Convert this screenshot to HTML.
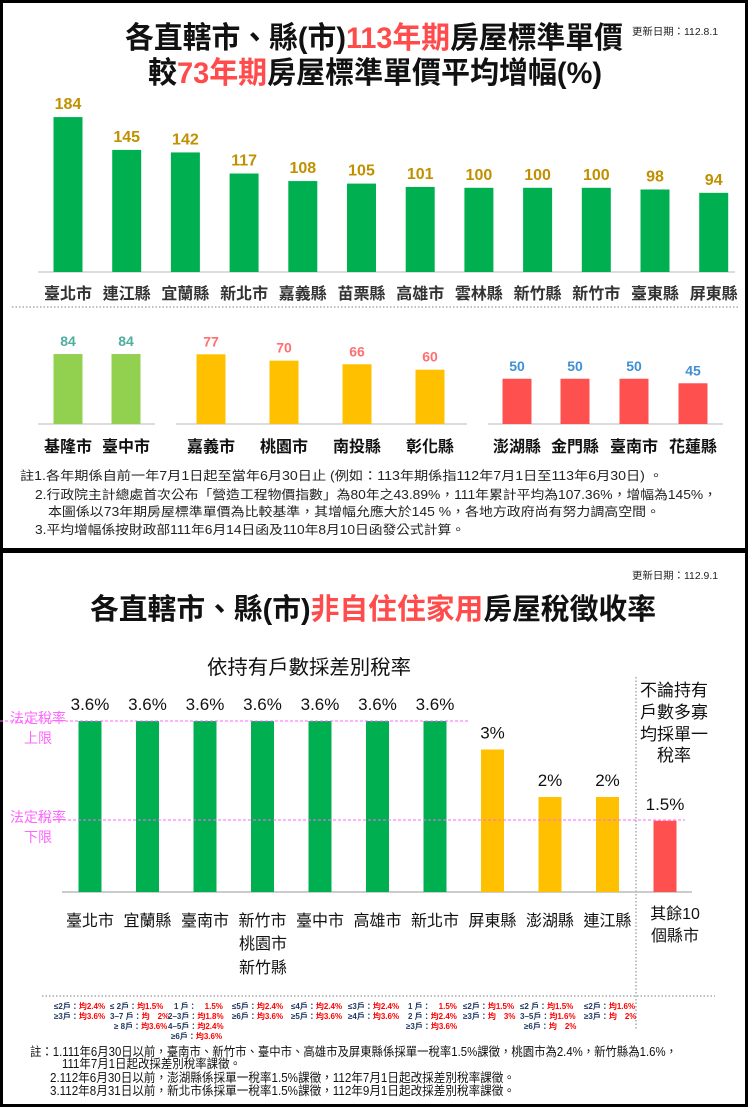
<!DOCTYPE html>
<html><head><meta charset="utf-8">
<style>
html,body{margin:0;padding:0;background:#fff;}
svg{display:block;font-family:"Liberation Sans","Noto Sans CJK TC",sans-serif;}
</style></head>
<body>
<svg id="chart" width="748" height="1107" viewBox="0 0 748 1107" xmlns="http://www.w3.org/2000/svg">
<rect x="1.5" y="1.5" width="745" height="548" fill="#fff" stroke="#000" stroke-width="3"/>
<rect x="1.5" y="551.5" width="745" height="554" fill="#fff" stroke="#000" stroke-width="3"/>

<text x="125" y="48" font-size="30" font-weight="bold" fill="#111" textLength="498" lengthAdjust="spacingAndGlyphs">各直轄市、縣(市)<tspan fill="#FF4B4B">113年期</tspan>房屋標準單價</text>
<text x="148" y="83" font-size="30" font-weight="bold" fill="#111" textLength="454" lengthAdjust="spacingAndGlyphs">較<tspan fill="#FF4B4B">73年期</tspan>房屋標準單價平均增幅(%)</text>
<text x="632" y="35" font-size="10" fill="#222" textLength="86" lengthAdjust="spacingAndGlyphs">更新日期：112.8.1</text>

<line x1="38" y1="272" x2="735" y2="272" stroke="#d0d0d0" stroke-width="1.5"/>
<line x1="12" y1="307" x2="738" y2="307" stroke="#aaa" stroke-width="1.5" stroke-dasharray="1.5,2"/>
<g id="top-bars"></g>

<line x1="38" y1="424" x2="155" y2="424" stroke="#d0d0d0" stroke-width="1.5"/>
<line x1="176" y1="424" x2="467" y2="424" stroke="#d0d0d0" stroke-width="1.5"/>
<line x1="488" y1="424" x2="723" y2="424" stroke="#d0d0d0" stroke-width="1.5"/>
<g id="mid-bars"></g>

<g font-size="12.5" fill="#222">
<text x="20" y="480" textLength="643" lengthAdjust="spacingAndGlyphs">註1.各年期係自前一年7月1日起至當年6月30日止 (例如：113年期係指112年7月1日至113年6月30日) 。</text>
<text x="35" y="499" textLength="682" lengthAdjust="spacingAndGlyphs">2.行政院主計總處首次公布「營造工程物價指數」為80年之43.89%，111年累計平均為107.36%，增幅為145%，</text>
<text x="48" y="516" textLength="612" lengthAdjust="spacingAndGlyphs">本圖係以73年期房屋標準單價為比較基準，其增幅允應大於145 %，各地方政府尚有努力調高空間。</text>
<text x="35" y="534" textLength="430" lengthAdjust="spacingAndGlyphs">3.平均增幅係按財政部111年6月14日函及110年8月10日函發公式計算。</text>
</g>

<text x="632" y="579" font-size="10" fill="#222" textLength="86" lengthAdjust="spacingAndGlyphs">更新日期：112.9.1</text>
<text x="90" y="619" font-size="29" font-weight="bold" fill="#111" textLength="566" lengthAdjust="spacingAndGlyphs">各直轄市、縣(市)<tspan fill="#FF4B4B">非自住住家用</tspan>房屋稅徵收率</text>
<text x="207" y="674" font-size="20" fill="#111" textLength="204" lengthAdjust="spacingAndGlyphs">依持有戶數採差別稅率</text>
<g font-size="17" fill="#111" text-anchor="middle">
<text x="674" y="696">不論持有</text>
<text x="674" y="718">戶數多寡</text>
<text x="674" y="740">均採單一</text>
<text x="674" y="761">稅率</text>
</g>
<line x1="636" y1="677" x2="636" y2="1030" stroke="#aaa" stroke-width="1.5" stroke-dasharray="1.5,2"/>
<line x1="62" y1="892" x2="692" y2="892" stroke="#bbb" stroke-width="1.5"/>
<g id="tax-bars"></g>
<line x1="0" y1="721" x2="470" y2="721" stroke="#FF66FF" stroke-width="1" stroke-dasharray="3,2"/>
<line x1="38" y1="820" x2="685" y2="820" stroke="#FF66FF" stroke-width="1" stroke-dasharray="3,2"/>
<g font-size="14" fill="#FF66FF" text-anchor="middle">
<text x="38" y="723">法定稅率</text><text x="38" y="743">上限</text>
<text x="38" y="822">法定稅率</text><text x="38" y="842">下限</text>
</g>
<g font-size="16" fill="#111" text-anchor="middle">
<text x="263" y="949">桃園市</text>
<text x="263" y="973">新竹縣</text>
<text x="675" y="919">其餘10</text>
<text x="675" y="941">個縣市</text>
</g>
<line x1="42" y1="996" x2="715" y2="996" stroke="#aaa" stroke-width="1.5" stroke-dasharray="1.5,2"/>

<g font-size="8" font-weight="bold">
<text x="54" y="1009"><tspan fill="#1F3864">≤2戶：</tspan><tspan fill="#f00">均2.4%</tspan></text>
<text x="54" y="1019"><tspan fill="#1F3864">≥3戶：</tspan><tspan fill="#f00">均3.6%</tspan></text>
<text x="110" y="1009"><tspan fill="#1F3864">≤ 2戶：</tspan><tspan fill="#f00">均1.5%</tspan></text>
<text x="110" y="1019"><tspan fill="#1F3864">3–7 戶：</tspan><tspan fill="#f00">均　2%</tspan></text>
<text x="114" y="1029"><tspan fill="#1F3864">≥ 8戶：</tspan><tspan fill="#f00">均3.6%</tspan></text>
<text x="174" y="1009"><tspan fill="#1F3864">1 戶：</tspan><tspan fill="#f00">　1.5%</tspan></text>
<text x="168" y="1019"><tspan fill="#1F3864">2–3戶：</tspan><tspan fill="#f00">均1.8%</tspan></text>
<text x="168" y="1029"><tspan fill="#1F3864">4–5戶：</tspan><tspan fill="#f00">均2.4%</tspan></text>
<text x="171" y="1039"><tspan fill="#1F3864">≥6戶：</tspan><tspan fill="#f00">均3.6%</tspan></text>
<text x="232" y="1009"><tspan fill="#1F3864">≤5戶：</tspan><tspan fill="#f00">均2.4%</tspan></text>
<text x="232" y="1019"><tspan fill="#1F3864">≥6戶：</tspan><tspan fill="#f00">均3.6%</tspan></text>
<text x="291" y="1009"><tspan fill="#1F3864">≤4戶：</tspan><tspan fill="#f00">均2.4%</tspan></text>
<text x="291" y="1019"><tspan fill="#1F3864">≥5戶：</tspan><tspan fill="#f00">均3.6%</tspan></text>
<text x="348" y="1009"><tspan fill="#1F3864">≤3戶：</tspan><tspan fill="#f00">均2.4%</tspan></text>
<text x="348" y="1019"><tspan fill="#1F3864">≥4戶：</tspan><tspan fill="#f00">均3.6%</tspan></text>
<text x="408" y="1009"><tspan fill="#1F3864">1 戶：</tspan><tspan fill="#f00">　1.5%</tspan></text>
<text x="408" y="1019"><tspan fill="#1F3864">2 戶：</tspan><tspan fill="#f00">均2.4%</tspan></text>
<text x="406" y="1029"><tspan fill="#1F3864">≥3戶：</tspan><tspan fill="#f00">均3.6%</tspan></text>
<text x="463" y="1009"><tspan fill="#1F3864">≤2戶：</tspan><tspan fill="#f00">均1.5%</tspan></text>
<text x="463" y="1019"><tspan fill="#1F3864">≥3戶：</tspan><tspan fill="#f00">均　3%</tspan></text>
<text x="520" y="1009"><tspan fill="#1F3864">≤2 戶：</tspan><tspan fill="#f00">均1.5%</tspan></text>
<text x="520" y="1019"><tspan fill="#1F3864">3–5戶：</tspan><tspan fill="#f00">均1.6%</tspan></text>
<text x="524" y="1029"><tspan fill="#1F3864">≥6戶：</tspan><tspan fill="#f00">均　2%</tspan></text>
<text x="584" y="1009"><tspan fill="#1F3864">≤2戶：</tspan><tspan fill="#f00">均1.6%</tspan></text>
<text x="584" y="1019"><tspan fill="#1F3864">≥3戶：</tspan><tspan fill="#f00">均　2%</tspan></text>
</g>

<g font-size="12.5" fill="#111">
<text x="30" y="1056" textLength="647" lengthAdjust="spacingAndGlyphs">註：1.111年6月30日以前，臺南市、新竹市、臺中市、高雄市及屏東縣係採單一稅率1.5%課徵，桃園市為2.4%，新竹縣為1.6%，</text>
<text x="62" y="1068" textLength="179" lengthAdjust="spacingAndGlyphs">111年7月1日起改採差別稅率課徵。</text>
<text x="50" y="1082" textLength="465" lengthAdjust="spacingAndGlyphs">2.112年6月30日以前，澎湖縣係採單一稅率1.5%課徵，112年7月1日起改採差別稅率課徵。</text>
<text x="50" y="1095" textLength="465" lengthAdjust="spacingAndGlyphs">3.112年8月31日以前，新北市係採單一稅率1.5%課徵，112年9月1日起改採差別稅率課徵。</text>
</g>
</svg>
<script>
// Top chart data
const topCategories = ["臺北市","連江縣","宜蘭縣","新北市","嘉義縣","苗栗縣","高雄市","雲林縣","新竹縣","新竹市","臺東縣","屏東縣"];
const topValues = [184,145,142,117,108,105,101,100,100,100,98,94];
// Middle chart data (three groups)
const midCategories = ["基隆市","臺中市","嘉義市","桃園市","南投縣","彰化縣","澎湖縣","金門縣","臺南市","花蓮縣"];
const midValues = [84,84,77,70,66,60,50,50,50,45];
const midGroups = [0,0,1,1,1,1,2,2,2,2];
// Tax chart data
const taxCategories = ["臺北市","宜蘭縣","臺南市","新竹市","臺中市","高雄市","新北市","屏東縣","澎湖縣","連江縣","其餘縣市"];
const taxValues = [3.6,3.6,3.6,3.6,3.6,3.6,3.6,3,2,2,1.5];
const taxLabels = ["3.6%","3.6%","3.6%","3.6%","3.6%","3.6%","3.6%","3%","2%","2%","1.5%"];

const NS = "http://www.w3.org/2000/svg";
function mk(tag, attrs, parent, txt){
  const e = document.createElementNS(NS, tag);
  for (const k in attrs) e.setAttribute(k, attrs[k]);
  if (txt !== undefined) e.textContent = txt;
  parent.appendChild(e);
  return e;
}

const topX = i => 68 + i * 58.7;
const topY = v => 272 - v * 0.842;
const gTop = document.getElementById('top-bars');
topValues.forEach((v, i) => {
  const r = mk('rect', {x: topX(i) - 14.5, y: topY(v), width: 29, height: 272 - topY(v), fill: '#00B050'}, gTop);
  
  
  const t = mk('text', {x: topX(i), y: topY(v) - 8, 'font-size': 16, 'font-weight': 'bold', fill: '#C09000', 'text-anchor': 'middle'}, gTop, String(v));
  
  
  const c = mk('text', {x: topX(i), y: 299, 'font-size': 16, 'font-weight': 'bold', fill: '#333', 'text-anchor': 'middle'}, gTop, topCategories[i]);
  
  
});

const midXs = [68,126,211,284,357,430,517,575,634,693];
const midScale = [0.833, 0.905, 0.905];
const midColors = ['#92D050', '#FFC000', '#FF5050'];
const midLabelColors = ['#4FAEA0', '#FF6F6F', '#3F8FD6'];
const midY = (v, g) => 424 - v * midScale[g];
const gMid = document.getElementById('mid-bars');
midValues.forEach((v, i) => {
  const g = midGroups[i];
  const r = mk('rect', {x: midXs[i] - 14.5, y: midY(v, g), width: 29, height: 424 - midY(v, g), fill: midColors[g]}, gMid);
  
  
  const t = mk('text', {x: midXs[i], y: midY(v, g) - 8, 'font-size': 14, 'font-weight': 'bold', fill: midLabelColors[g], 'text-anchor': 'middle'}, gMid, String(v));
  
  
  const c = mk('text', {x: midXs[i], y: 452, 'font-size': 16, 'font-weight': 'bold', fill: '#111', 'text-anchor': 'middle'}, gMid, midCategories[i]);
  
  
});

const taxX = i => 90 + i * 57.5;
const taxY = v => 892 - v * 47.5;
const gTax = document.getElementById('tax-bars');
taxValues.forEach((v, i) => {
  const col = i < 7 ? '#00B050' : (i < 10 ? '#FFC000' : '#FF5050');
  const r = mk('rect', {x: taxX(i) - 11.5, y: taxY(v), width: 23, height: 892 - taxY(v), fill: col}, gTax);
  
  
  const t = mk('text', {x: taxX(i), y: taxY(v) - 11, 'font-size': 17, fill: '#111', 'text-anchor': 'middle'}, gTax, taxLabels[i]);
  
  
  if (i < 10) {
    const c = mk('text', {x: taxX(i), y: 926, 'font-size': 16, fill: '#111', 'text-anchor': 'middle'}, gTax, taxCategories[i]);
    
    
  }
});
</script>
</body></html>
